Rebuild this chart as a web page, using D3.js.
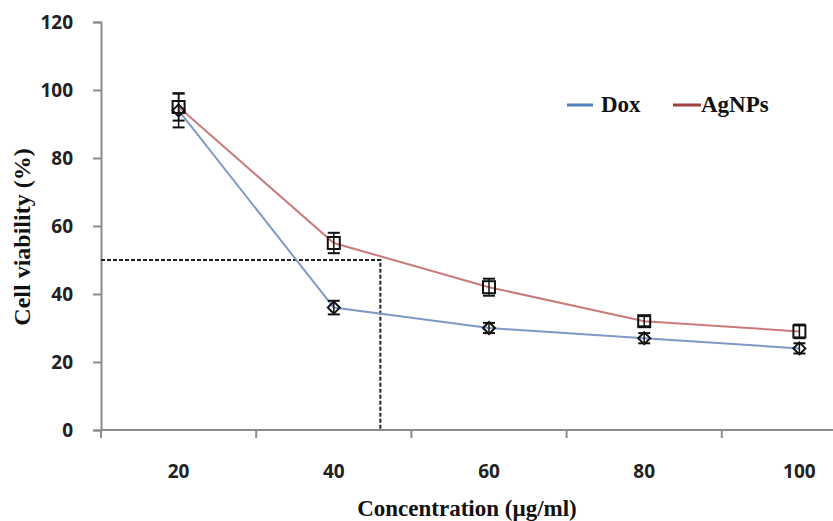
<!DOCTYPE html>
<html><head><meta charset="utf-8">
<script src="https://cdn.jsdelivr.net/npm/d3@7"></script>
<style>body{margin:0;background:#fff}svg{display:block}</style>
</head><body>
<svg id="c" width="833" height="521"></svg>
<script>
const categories = ["20","40","60","80","100"];
const doxValues = [94, 36, 30, 27, 24];
const doxErrors = [5, 2, 1.5, 1.5, 1.5];
const agValues = [95, 55, 42, 32, 29];
const agErrors = [4, 3, 2.5, 1.5, 2];
const yTicks = [0,20,40,60,80,100,120];
const ic50 = {x: 46, y: 50};

(function(){
const svg = d3.select("#c");
const mLeft = 101, mTop = 22, plotW = 776, mBottom = 430;
const x = d3.scaleBand().domain(categories).range([mLeft, mLeft+plotW]).paddingInner(0).paddingOuter(0);
const y = d3.scaleLinear().domain([0,120]).range([mBottom, mTop]);
const xNum = d3.scaleLinear().domain([20,100]).range([x("20")+x.bandwidth()/2, x("100")+x.bandwidth()/2]);

const axisColor = "#8c8c8c";
const tickFont = "'Open Sans', sans-serif";
const ya = svg.append("g").attr("transform",`translate(${mLeft},0)`)
  .call(d3.axisLeft(y).tickValues(yTicks).tickSize(8).tickPadding(20));
ya.select(".domain").attr("stroke",axisColor).attr("stroke-width",2);
ya.selectAll(".tick line").attr("stroke",axisColor).attr("stroke-width",2);
ya.selectAll("text").attr("font-family",tickFont).attr("font-weight","bold").attr("font-size",19).attr("fill","#222");

const xa = svg.append("g").attr("transform",`translate(0,${mBottom})`);
xa.append("line").attr("x1",mLeft).attr("x2",mLeft+plotW).attr("y1",0).attr("y2",0).attr("stroke",axisColor).attr("stroke-width",2);
const bounds = categories.map(c=>x(c)).concat([mLeft+plotW]);
xa.selectAll("line.tk").data(bounds).join("line").attr("class","tk")
  .attr("x1",d=>d).attr("x2",d=>d).attr("y1",0).attr("y2",8).attr("stroke",axisColor).attr("stroke-width",2);
xa.selectAll("text").data(categories).join("text")
  .attr("x",d=>x(d)+x.bandwidth()/2).attr("y",48).attr("text-anchor","middle")
  .attr("font-family",tickFont).attr("font-weight","bold").attr("font-size",19).attr("fill","#222").text(d=>d);

svg.append("path").attr("d",`M${mLeft},${y(ic50.y)}H${xNum(ic50.x)}V${mBottom}`)
  .attr("fill","none").attr("stroke","#222").attr("stroke-width",2).attr("stroke-dasharray","4,2");

const cx = d => x(d)+x.bandwidth()/2;
const line = d3.line().x(d=>cx(d.c)).y(d=>y(d.v));
const series = [
  {name:"Dox", vals:doxValues, errs:doxErrors, color:"#7f99c6", legend:"#4f81bd", marker:"diamond"},
  {name:"AgNPs", vals:agValues, errs:agErrors, color:"#c97b7b", legend:"#a0403d", marker:"square"}
];
series.forEach(s=>{
  const pts = categories.map((c,i)=>({c, v:s.vals[i], e:s.errs[i]}));
  svg.append("path").datum(pts).attr("d",line).attr("fill","none").attr("stroke",s.color).attr("stroke-width",2);
});
series.forEach(s=>{
  const pts = categories.map((c,i)=>({c, v:s.vals[i], e:s.errs[i]}));
  const g = svg.append("g");
  pts.forEach(p=>{
    const px = cx(p.c), py = y(p.v), t = y(p.v+p.e), b = y(p.v-p.e);
    g.append("line").attr("x1",px).attr("x2",px).attr("y1",t).attr("y2",b).attr("stroke","#111").attr("stroke-width",1.5);
    g.append("line").attr("x1",px-6).attr("x2",px+6).attr("y1",t).attr("y2",t).attr("stroke","#111").attr("stroke-width",2);
    g.append("line").attr("x1",px-6).attr("x2",px+6).attr("y1",b).attr("y2",b).attr("stroke","#111").attr("stroke-width",2);
    if(s.marker==="square"){
      g.append("rect").attr("x",px-6).attr("y",py-6).attr("width",12).attr("height",12).attr("fill","none").attr("stroke","#111").attr("stroke-width",2);
    } else {
      g.append("path").attr("d",`M${px},${py-6}L${px+6},${py}L${px},${py+6}L${px-6},${py}Z`).attr("fill","none").attr("stroke","#111").attr("stroke-width",2);
    }
  });
});

const lg = svg.append("g");
lg.append("line").attr("x1",567).attr("x2",593).attr("y1",105).attr("y2",105).attr("stroke",series[0].legend).attr("stroke-width",3);
lg.append("text").attr("x",601).attr("y",112).text("Dox");
lg.append("line").attr("x1",673).attr("x2",701).attr("y1",105).attr("y2",105).attr("stroke",series[1].legend).attr("stroke-width",3);
lg.append("text").attr("x",701).attr("y",112).text("AgNPs");
lg.selectAll("text").attr("font-family","'Liberation Serif', serif").attr("font-weight","bold").attr("font-size",23).attr("fill","#111");

svg.append("text").attr("x",467).attr("y",516).attr("text-anchor","middle")
  .attr("font-family","'Liberation Serif', serif").attr("font-weight","bold").attr("font-size",23).attr("fill","#111")
  .text("Concentration (µg/ml)");
svg.append("text").attr("transform","translate(30,237) rotate(-90)").attr("text-anchor","middle")
  .attr("font-family","'Liberation Serif', serif").attr("font-weight","bold").attr("font-size",24).attr("fill","#111")
  .text("Cell viability (%)");
})();
</script>
</body></html>
